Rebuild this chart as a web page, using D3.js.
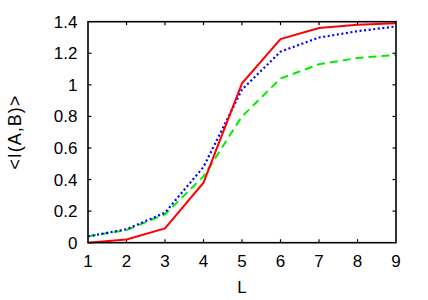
<!DOCTYPE html>
<html>
<head>
<meta charset="utf-8">
<script src="https://cdn.jsdelivr.net/npm/d3@7"></script>
<style>
  body { margin: 0; background: #fff; }
  text { font-family: "Liberation Sans", Arial, sans-serif; fill: #000; }
</style>
</head>
<body>
<div id="chart"></div>
<script>
const lengths = [1, 2, 3, 4, 5, 6, 7, 8, 9];
const redValues = [0.0, 0.02, 0.09, 0.38, 1.01, 1.29, 1.36, 1.38, 1.39];
const blueValues = [0.04, 0.085, 0.19, 0.48, 0.97, 1.21, 1.30, 1.34, 1.37];
const greenValues = [0.04, 0.08, 0.18, 0.42, 0.80, 1.04, 1.13, 1.17, 1.19];
const yTicks = [0, 0.2, 0.4, 0.6, 0.8, 1, 1.2, 1.4];
const yTickLabels = ["0", "0.2", "0.4", "0.6", "0.8", "1", "1.2", "1.4"];

const width = 428;
const height = 300;
const margin = { left: 88, right: 32, top: 21.7, bottom: 57.3 };

const svg = d3.select("#chart")
  .append("svg")
  .attr("width", width)
  .attr("height", height);

const x = d3.scaleLinear().domain([1, 9]).range([margin.left, width - margin.right]);
const y = d3.scaleLinear().domain([0, 1.4]).range([height - margin.bottom, margin.top]);

const tickLen = 3.5;

// tick marks (gnuplot style: inward, mirrored)
const ticks = svg.append("g").attr("stroke", "#000").attr("stroke-width", 1.2);
lengths.slice(1, -1).forEach((d) => {
  ticks.append("line")
    .attr("x1", x(d)).attr("x2", x(d))
    .attr("y1", y(0)).attr("y2", y(0) - tickLen);
  ticks.append("line")
    .attr("x1", x(d)).attr("x2", x(d))
    .attr("y1", y(1.4)).attr("y2", y(1.4) + tickLen);
});
yTicks.slice(1, -1).forEach((d) => {
  ticks.append("line")
    .attr("x1", x(1)).attr("x2", x(1) + tickLen)
    .attr("y1", y(d)).attr("y2", y(d));
  ticks.append("line")
    .attr("x1", x(9)).attr("x2", x(9) - tickLen)
    .attr("y1", y(d)).attr("y2", y(d));
});

// tick labels
svg.append("g")
  .selectAll("text")
  .data(lengths)
  .enter()
  .append("text")
  .attr("x", (d) => x(d))
  .attr("y", y(0) + 24.5)
  .attr("text-anchor", "middle")
  .style("font-size", "17px")
  .text((d) => d);

svg.append("g")
  .selectAll("text")
  .data(yTicks)
  .enter()
  .append("text")
  .attr("x", x(1) - 10.5)
  .attr("y", (d) => y(d) + 6)
  .attr("text-anchor", "end")
  .style("font-size", "17px")
  .text((d, i) => yTickLabels[i]);

// axis titles
svg.append("text")
  .attr("x", (x(1) + x(9)) / 2)
  .attr("y", 293)
  .attr("text-anchor", "middle")
  .style("font-size", "17px")
  .text("L");

svg.append("text")
  .attr("transform", `translate(21,${(y(0) + y(1.4)) / 2}) rotate(-90)`)
  .attr("text-anchor", "middle")
  .style("font-size", "18px")
  .style("letter-spacing", "1px")
  .text("<I(A,B)>");

// series
const line = (vals) => d3.line()
  .x((d, i) => x(lengths[i]))
  .y((d) => y(d))(vals);

svg.append("path")
  .attr("d", line(greenValues))
  .attr("fill", "none")
  .attr("stroke", "#00ee00")
  .attr("stroke-width", 2)
  .attr("stroke-dasharray", "8,5");

svg.append("path")
  .attr("d", line(blueValues))
  .attr("fill", "none")
  .attr("stroke", "#0000ff")
  .attr("stroke-width", 2.2)
  .attr("stroke-dasharray", "2,2.6");

svg.append("path")
  .attr("d", line(redValues))
  .attr("fill", "none")
  .attr("stroke", "#ff0000")
  .attr("stroke-width", 2);

// frame
svg.append("rect")
  .attr("x", x(1))
  .attr("y", y(1.4))
  .attr("width", x(9) - x(1))
  .attr("height", y(0) - y(1.4))
  .attr("fill", "none")
  .attr("stroke", "#000")
  .attr("stroke-width", 1.6);
</script>
</body>
</html>
